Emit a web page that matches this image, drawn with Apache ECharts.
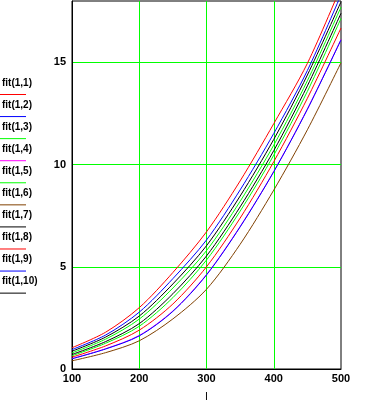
<!DOCTYPE html>
<html>
<head>
<meta charset="utf-8">
<script src="https://cdn.jsdelivr.net/npm/echarts@6/dist/echarts.min.js"></script>
<style>html,body{margin:0;padding:0;background:#fff;}#c{width:382px;height:414px;}</style>
</head>
<body>
<div id="c"></div>
<script>
const xValues = [100, 150, 200, 250, 300, 350, 400, 450, 500];
const fit11 = [1.04, 1.80, 3.00, 4.72, 6.71, 9.20, 12.00, 14.95, 18.70];
const fit12 = [0.95, 1.66, 2.78, 4.42, 6.31, 8.76, 11.52, 14.60, 18.30];
const fit13 = [0.79, 1.46, 2.44, 3.96, 5.79, 8.20, 10.95, 14.10, 17.70];
const fit14 = [0.51, 0.99, 1.64, 2.84, 4.62, 6.97, 9.66, 12.72, 16.12];
const fit15 = [0.65, 1.26, 2.09, 3.49, 5.33, 7.72, 10.46, 13.58, 17.15];
const fit16 = [0.40, 0.80, 1.38, 2.45, 3.90, 6.10, 8.75, 11.70, 14.98];
const fit17 = [0.87, 1.56, 2.59, 4.16, 6.03, 8.46, 11.23, 14.38, 17.96];
const fit18 = [0.58, 1.13, 1.90, 3.18, 5.00, 7.38, 10.14, 13.24, 16.68];
const fit19 = [0.50, 0.98, 1.62, 2.82, 4.60, 6.95, 9.65, 12.70, 16.10];
const fit110 = [0.71, 1.34, 2.22, 3.68, 5.53, 7.93, 10.68, 13.85, 17.40];
const seriesNames = ['fit(1,1)','fit(1,2)','fit(1,3)','fit(1,4)','fit(1,5)','fit(1,6)','fit(1,7)','fit(1,8)','fit(1,9)','fit(1,10)'];
const seriesData = [fit11, fit12, fit13, fit14, fit15, fit16, fit17, fit18, fit19, fit110];
const seriesColors = ['#ff0000','#0000ff','#00ff00','#ff00ff','#00ff00','#804000','#000000','#ff0000','#0000ff','#000000'];
const xTicks = [100, 200, 300, 400, 500];
const yTicks = [0, 5, 10, 15];
const xName = 'l';

const chart = echarts.init(document.getElementById('c'), null, {renderer: 'canvas'});
const font = 'Liberation Sans';
const legendGraphics = [];
seriesNames.forEach((n, i) => {
  legendGraphics.push({type: 'text', left: 2, top: 78 + i * 22.07, style: {text: n, font: 'bold 10px ' + font, fill: '#000'}});
  legendGraphics.push({type: 'line', shape: {x1: 0, y1: 94.5 + i * 22.07, x2: 26, y2: 94.5 + i * 22.07}, style: {stroke: seriesColors[i], lineWidth: 1}});
});
chart.setOption({
  animation: false,
  backgroundColor: '#fff',
  grid: {left: 72, right: 41, top: 1, bottom: 45, show: true, borderColor: '#000', borderWidth: 1, backgroundColor: 'transparent'},
  xAxis: {
    type: 'value', min: 100, max: 500, interval: 100,
    name: xName, nameLocation: 'middle', nameGap: 22,
    nameTextStyle: {color: '#000', fontFamily: font, fontSize: 11},
    axisLine: {show: true, lineStyle: {color: '#000', width: 1}},
    axisTick: {show: false},
    axisLabel: {color: '#000', fontFamily: font, fontWeight: 'bold', fontSize: 11, margin: 4,
      formatter: v => xTicks.includes(v) ? String(v) : ''},
    splitLine: {show: true, lineStyle: {color: ['rgba(0,0,0,0)', '#00ff00', '#00ff00', '#00ff00', 'rgba(0,0,0,0)'], width: 1}}
  },
  yAxis: {
    type: 'value', min: 0, max: 18, interval: 5,
    axisLine: {show: true, lineStyle: {color: '#000', width: 1}},
    axisTick: {show: false},
    axisLabel: {color: '#000', fontFamily: font, fontWeight: 'bold', fontSize: 11, margin: 6, showMaxLabel: false,
      formatter: v => yTicks.includes(v) ? String(v) : ''},
    splitLine: {show: true, lineStyle: {color: ['rgba(0,0,0,0)', '#00ff00', '#00ff00', '#00ff00', 'rgba(0,0,0,0)'], width: 1}}
  },
  graphic: legendGraphics,
  series: seriesNames.map((n, i) => ({
    name: n, type: 'line', showSymbol: false, smooth: 0.3,
    data: xValues.map((x, j) => [x, seriesData[i][j]]),
    lineStyle: {color: seriesColors[i], width: 1},
    itemStyle: {color: seriesColors[i]},
    clip: true
  }))
});
</script>
</body>
</html>
